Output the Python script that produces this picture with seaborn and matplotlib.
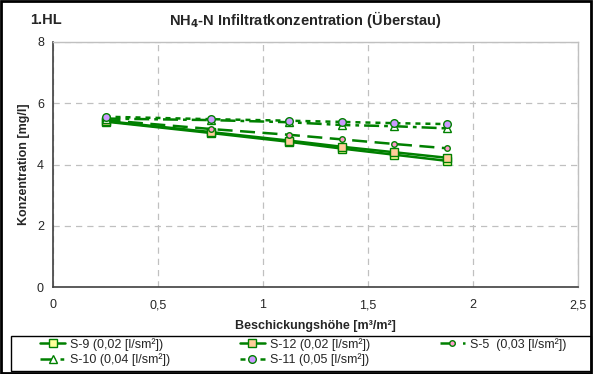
import matplotlib
matplotlib.use("Agg")
import matplotlib.pyplot as plt
import seaborn as sns
import pandas as pd
from matplotlib.patches import Rectangle

x_vals = [0.25, 0.75, 1.125, 1.375, 1.625, 1.875]
s9 = [5.40, 5.03, 4.74, 4.52, 4.32, 4.12]
s12 = [5.42, 5.06, 4.78, 4.58, 4.40, 4.22]
s5 = [5.45, 5.16, 4.97, 4.82, 4.67, 4.53]
s10 = [5.50, 5.45, 5.38, 5.29, 5.25, 5.18]
s11 = [5.56, 5.48, 5.43, 5.39, 5.35, 5.32]
labels = ["S-9 (0,02 [l/sm²])", "S-12 (0,02 [l/sm²])", "S-5  (0,03 [l/sm²])",
          "S-10 (0,04 [l/sm²])", "S-11 (0,05 [l/sm²])"]
x_ticks = [0, 0.5, 1, 1.5, 2, 2.5]
x_ticklabels = ["0", "0,5", "1", "1,5", "2", "2,5"]
y_ticks = [0, 2, 4, 6, 8]

sns.set_style("white")
plt.rcParams["font.family"] = ["Liberation Sans", "DejaVu Sans"]

fig = plt.figure(figsize=(5.93, 3.74), dpi=100)
ax = fig.add_axes([53/593, 1-287/374, (578-53)/593, (287-42)/374])

green = "#008000"
styles = [
    dict(ls="-", marker="s", mfc="#ffff99", ms=5.5),
    dict(ls="-", marker="s", mfc="#ffcc99", ms=5.5),
    dict(ls=(0, (6, 3)), marker="o", mfc="#ff99cc", ms=4),
    dict(ls=(0, (6, 2, 1.5, 2)), marker="^", mfc="white", ms=5.5),
    dict(ls=(0, (2, 2)), marker="o", mfc="#cc99ff", ms=5.5),
]
series = [s9, s12, s5, s10, s11]
handles = []
for ys, lab, st in zip(series, labels, styles):
    df = pd.DataFrame({"x": x_vals, "y": ys})
    sns.lineplot(data=df, x="x", y="y", ax=ax, color=green, linestyle=st["ls"],
                 linewidth=1.8, marker=st["marker"], markerfacecolor=st["mfc"],
                 markeredgecolor=green, markersize=st["ms"], markeredgewidth=1.0,
                 label=lab, legend=False)
    handles.append(ax.lines[-1])

ax.set_xlim(0, 2.5)
ax.set_ylim(0, 8)
ax.set_xticks(x_ticks)
ax.set_xticklabels(x_ticklabels)
ax.set_yticks(y_ticks)
ax.grid(True, color="#c0c0c0", linestyle=(0, (5, 4)), linewidth=0.9)
ax.tick_params(axis="both", labelsize=9, length=3, color="#404040", direction="out")
ax.tick_params(axis="x", pad=6)
for s in ["left", "bottom"]:
    ax.spines[s].set_color("#404040")
    ax.spines[s].set_linewidth(1.2)
for s in ["top", "right"]:
    ax.spines[s].set_color("#c0c0c0")
    ax.spines[s].set_linewidth(1.0)

ax.set_xlabel("Beschickungshöhe [m³/m²]", fontsize=9, fontweight="bold", labelpad=6)
ax.set_ylabel("Konzentration [mg/l]", fontsize=9, fontweight="bold", labelpad=5)

fig.text(305/593, 1-20/374, "NH$_\\mathbf{4}$-N Infiltratkonzentration (Überstau)",
         ha="center", va="center", fontsize=10.5, fontweight="bold")
fig.text(30/593, 1-20/374, "1.HL", ha="left", va="center", fontsize=10.5, fontweight="bold")

order = [0, 3, 1, 4, 2]
leg = fig.legend([handles[i] for i in order], [labels[i] for i in order],
                 ncol=3, loc="upper left",
                 bbox_to_anchor=(40/593, 1-338/374, (566-40)/593, 0.0001),
                 mode="expand", fontsize=9, frameon=False,
                 handlelength=2.0, handletextpad=0.4,
                 borderpad=0, labelspacing=0.2, borderaxespad=0)

fig.patches.append(Rectangle((11/593, 1-371/374), (591-11)/593, (371-336)/374,
                             transform=fig.transFigure, fill=False,
                             edgecolor="black", linewidth=1.0))
fig.patches.append(Rectangle((0.002, 0.003), 0.995, 0.994, transform=fig.transFigure,
                             fill=False, edgecolor="black", linewidth=2.0))

fig.savefig("out.png", dpi=100)
